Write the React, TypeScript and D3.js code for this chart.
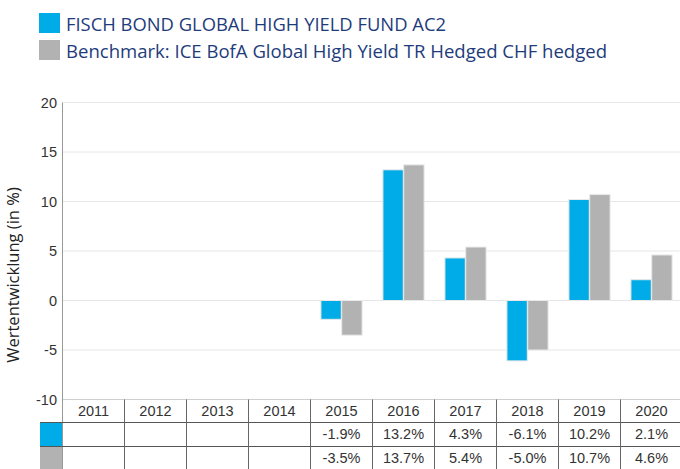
import React from "react";
import * as d3 from "d3";

const years = ["2011", "2012", "2013", "2014", "2015", "2016", "2017", "2018", "2019", "2020"];
const fundValues: (number | null)[] = [null, null, null, null, -1.9, 13.2, 4.3, -6.1, 10.2, 2.1];
const benchValues: (number | null)[] = [null, null, null, null, -3.5, 13.7, 5.4, -5.0, 10.7, 4.6];
const yTicks = [20, 15, 10, 5, 0, -5, -10];
const seriesNames = [
  "FISCH BOND GLOBAL HIGH YIELD FUND AC2",
  "Benchmark: ICE BofA Global High Yield TR Hedged CHF hedged",
];
const seriesColors = ["#00ace8", "#b2b2b2"];

const W = 680;
const H = 469;
const left = 62.5;
const colW = 62;
const yTop = 102.5;
const yBottom = 399.5;

export default function App() {
  const x = d3.scaleBand<string>().domain(years).range([left, left + colW * years.length]).paddingInner(0).paddingOuter(0);
  const y = d3.scaleLinear().domain([-10, 20]).range([yBottom, yTop]);
  const inner = d3.scaleBand<number>().domain([0, 1]).range([10, colW - 10]).padding(0.02);
  const rows = [fundValues, benchValues];
  const rowTop = [422.5, 446.5];
  const rowH = 24;
  const fmt = (v: number) => v.toFixed(1) + "%";
  const tableRight = left + colW * years.length;

  return (
    <svg width={W} height={H} style={{ position: "absolute", left: 0, top: 0, background: "#fff" }}>
      {seriesNames.map((n, i) => (
        <g key={n}>
          <rect x={39} y={13 + i * 27} width={21} height={20} fill={seriesColors[i]} />
          <text
            x={66}
            y={31 + i * 27}
            fontFamily="'Open Sans', 'Noto Sans', sans-serif"
            fontSize={18}
            fill="#1e3c7c"
            textLength={i === 0 ? 380 : 541}
            lengthAdjust="spacingAndGlyphs"
          >
            {n}
          </text>
        </g>
      ))}

      {yTicks.map((t) => (
        <line key={t} x1={left} x2={W} y1={y(t)} y2={y(t)} stroke={t === -10 ? "#cfcfcf" : "#e6e6e6"} strokeWidth={1} />
      ))}

      {yTicks.map((t) => (
        <text key={t} x={57} y={y(t) + 5} textAnchor="end" fontFamily="'Liberation Sans', Arial, sans-serif" fontSize={14.5} fill="#333">
          {t}
        </text>
      ))}

      <text
        transform={`translate(19,275) rotate(-90)`}
        textAnchor="middle"
        fontFamily="'Open Sans', 'Noto Sans', sans-serif"
        fontSize={16.5}
        fill="#222"
      >
        Wertentwicklung (in %)
      </text>

      {years.map((yr, yi) =>
        rows.map((vals, si) => {
          const v = vals[yi];
          if (v === null) return null;
          const x0 = (x(yr) as number) + (inner(si) as number);
          const y0 = Math.min(y(v), y(0));
          const h = Math.abs(y(v) - y(0));
          return (
            <rect
              key={yr + si}
              x={x0}
              y={y0}
              width={inner.bandwidth()}
              height={h}
              fill={seriesColors[si]}
              stroke="#e9e9e9"
              strokeWidth={1}
            />
          );
        })
      )}

      <line x1={left} x2={left} y1={yTop} y2={H} stroke="#999" strokeWidth={1} />

      {years.map((yr) => (
        <text
          key={yr}
          x={(x(yr) as number) + colW / 2}
          y={415.5}
          textAnchor="middle"
          fontFamily="'Liberation Sans', Arial, sans-serif"
          fontSize={14.5}
          fill="#333"
        >
          {yr}
        </text>
      ))}
      {rowTop.map((t) => (
        <line key={t} x1={40} x2={W} y1={t} y2={t} stroke="#555" strokeWidth={1} />
      ))}
      {rowTop.map((t, i) => (
        <rect key={"sq" + i} x={40} y={t + 0.5} width={22} height={rowH - 1} fill={seriesColors[i]} />
      ))}
      {years.slice(1).map((yr) => (
        <line key={"v" + yr} x1={x(yr) as number} x2={x(yr) as number} y1={yBottom} y2={H} stroke="#666" strokeWidth={1} />
      ))}
      <line x1={tableRight} x2={tableRight} y1={yBottom} y2={H} stroke="#666" strokeWidth={1} />
      {rows.map((vals, ri) =>
        years.map((yr, yi) => {
          const v = vals[yi];
          if (v === null) return null;
          return (
            <text
              key={"t" + ri + yr}
              x={(x(yr) as number) + colW / 2}
              y={rowTop[ri] + 16.5}
              textAnchor="middle"
              fontFamily="'Liberation Sans', Arial, sans-serif"
              fontSize={14.5}
              fill="#333"
            >
              {fmt(v)}
            </text>
          );
        })
      )}
    </svg>
  );
}
